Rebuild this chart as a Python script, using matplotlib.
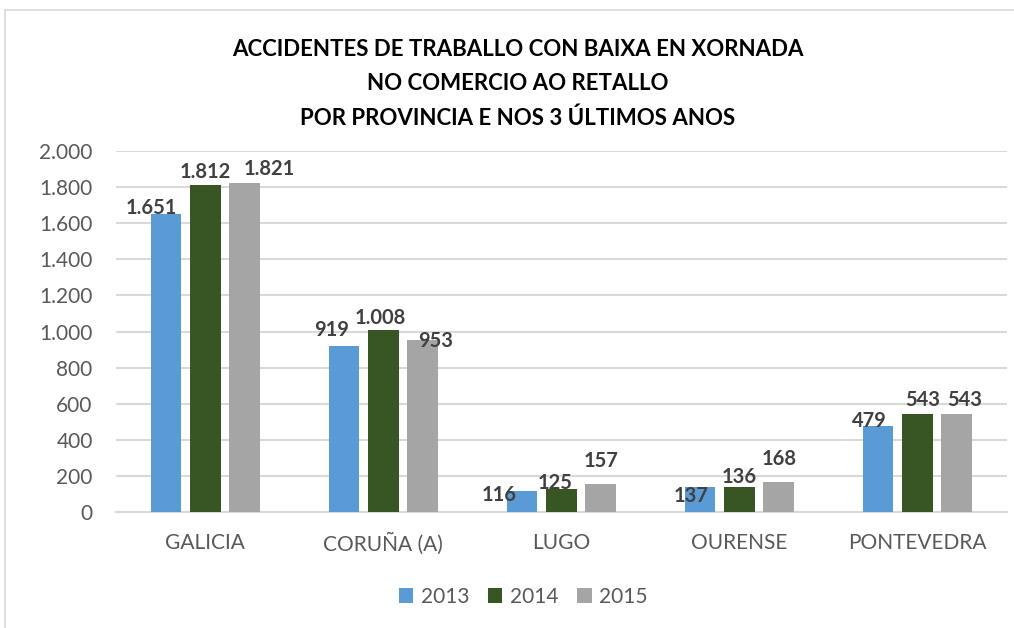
import matplotlib
matplotlib.use("Agg")
import matplotlib.pyplot as plt
import numpy as np
from matplotlib.patches import Rectangle, Patch

plt.rcParams['font.family'] = ['Lato', 'DejaVu Sans']

categories = ["GALICIA", "CORUÑA (A)", "LUGO", "OURENSE", "PONTEVEDRA"]
years = ["2013", "2014", "2015"]
v2013 = [1651, 919, 116, 137, 479]
v2014 = [1812, 1008, 125, 136, 543]
v2015 = [1821, 953, 157, 168, 543]
yticks = [0, 200, 400, 600, 800, 1000, 1200, 1400, 1600, 1800, 2000]
ytick_labels = ["0", "200", "400", "600", "800", "1.000", "1.200", "1.400",
                "1.600", "1.800", "2.000"]
title = ("ACCIDENTES DE TRABALLO CON BAIXA EN XORNADA\n"
         "NO COMERCIO AO RETALLO\n"
         "POR PROVINCIA E NOS 3 ÚLTIMOS ANOS")

colors = ["#5B9BD5", "#375623", "#A5A5A5"]
series = [v2013, v2014, v2015]

# label offsets in pixels (dx, dy) relative to the bar top centre
offsets = [
    [(-15, 0), (0, 7), (25, 8)],
    [(-12, 10), (-3, 6), (13, -7)],
    [(-23, -10), (-6, 0), (0, 17)],
    [(-9, -15), (0, 4), (0, 17)],
    [(-9, -1), (5, 8), (8, 8)],
]

def fmt(v):
    return f"{v:,}".replace(",", ".")

W, H = 1014, 628
fig = plt.figure(figsize=(W / 100, H / 100), dpi=100)
fig.patch.set_facecolor("white")

# outer chart frame
fig.add_artist(Rectangle((5 / W, -0.05), 1.2, 1 - 10 / H + 0.05,
                         transform=fig.transFigure, fill=False,
                         edgecolor="#D9D9D9", lw=1.2))

ax_left, ax_right = 116.3, 1006.5
ax_top, ax_bot = 151, 512
ax = fig.add_axes([ax_left / W, 1 - ax_bot / H, (ax_right - ax_left) / W,
                   (ax_bot - ax_top) / H])

x = np.arange(len(categories))
step = 0.221
width = 0.1725
for i, (vals, c) in enumerate(zip(series, colors)):
    xs = x + (i - 1) * step
    ax.bar(xs, vals, width=width, color=c, label=years[i], zorder=3)
    for j, (xx, v) in enumerate(zip(xs, vals)):
        dx, dy = offsets[j][i]
        ax.annotate(fmt(v), (xx, v), xytext=(dx, dy),
                    textcoords="offset pixels", ha="center", va="baseline",
                    fontsize=14.5, fontweight="bold", color="#404040",
                    zorder=5)

ax.set_xlim(-0.5, len(categories) - 0.5)
ax.set_ylim(0, 2000)
ax.set_yticks(yticks)
ax.set_yticklabels(ytick_labels)
ax.set_xticks(x)
ax.set_xticklabels(categories)
ax.tick_params(axis="y", length=0, pad=17, labelsize=15, labelcolor="#595959")
ax.tick_params(axis="x", length=0, pad=15, labelsize=15, labelcolor="#595959")
ax.grid(axis="y", color="#D9D9D9", lw=1.5, zorder=0)
for s in ["top", "right", "left"]:
    ax.spines[s].set_visible(False)
ax.spines["bottom"].set_color("#D9D9D9")
ax.spines["bottom"].set_linewidth(1.5)

fig.text(518 / W, 1 - 84 / H, title, ha="center", va="center", fontsize=16.0,
         fontweight="bold", color="black", linespacing=1.75)

handles = [Patch(facecolor=c, label=y) for c, y in zip(colors, years)]
fig.legend(handles=handles, loc="center", bbox_to_anchor=(523 / W, 1 - 597 / H),
           ncol=3, frameon=False, fontsize=15, handlelength=0.7,
           handleheight=0.7, handletextpad=0.35, columnspacing=0.9,
           labelcolor="#595959")

fig.savefig("out.png", dpi=100)
